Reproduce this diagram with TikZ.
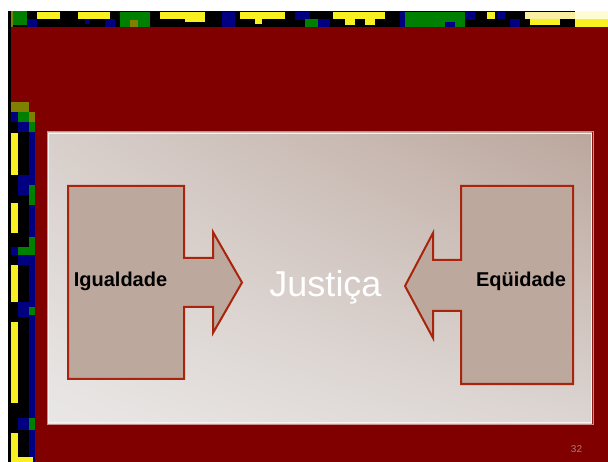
\documentclass[tikz,border=0pt]{standalone}
\usepackage{fontspec}
\setmainfont{Liberation Sans}
\usetikzlibrary{shadings}
\definecolor{bgred}{HTML}{800000}
\definecolor{olv}{HTML}{808000}
\definecolor{grn}{HTML}{008000}
\definecolor{blu}{HTML}{000080}
\definecolor{yel}{HTML}{F8F020}
\definecolor{paleyel}{HTML}{F8F0A0}
\definecolor{calfill}{HTML}{BDA89E}
\definecolor{caledge}{HTML}{A8240C}
\definecolor{pnum}{HTML}{A58080}
\definecolor{pul}{RGB}{216,207,203}
\definecolor{pur}{RGB}{187,166,156}
\definecolor{pll}{RGB}{233,231,230}
\definecolor{plr}{RGB}{220,213,210}
\definecolor{pout}{RGB}{200,140,140}
\definecolor{pin}{RGB}{245,242,242}
\tikzset{
  callout/.style={fill=calfill, draw=caledge, line width=2pt, line join=miter},
  lbl/.style={font=\bfseries\fontsize{20}{24}\selectfont, text=black, inner sep=0pt, anchor=base},
  bigtxt/.style={font=\fontsize{36}{40}\selectfont, text=white, inner sep=0pt, anchor=base},
  pagenum/.style={font=\fontsize{10}{12}\selectfont, text=pnum, inner sep=0pt, anchor=base}
}
\begin{document}
\begin{tikzpicture}[x=1pt,y=-1pt]
\useasboundingbox (0,0) rectangle (608,462);
\fill[white] (0,0) rectangle (608,462);
% background
\fill[bgred] (8,27) rectangle (608,462);
% top strip
\fill[black] (8,11) rectangle (608,27);
\fill[olv] (9,11) rectangle (13,27);
\fill[grn] (13,11) rectangle (27,25);
\fill[blu] (27,19) rectangle (37,27);
\fill[yel] (37,12) rectangle (60,19);
\fill[yel] (78,12) rectangle (110,19);
\fill[blu] (85,19) rectangle (90,24);
\fill[blu] (105,19) rectangle (115,27);
\fill[grn] (120,12) rectangle (150,27);
\fill[olv] (130,20) rectangle (138,27);
\fill[yel] (160,12) rectangle (195,19);
\fill[yel] (185,12) rectangle (205,22);
\fill[blu] (222,12) rectangle (235,27);
\fill[yel] (240,12) rectangle (285,19);
\fill[yel] (255,19) rectangle (262,24);
\fill[blu] (295,12) rectangle (310,20);
\fill[grn] (305,19) rectangle (318,27);
\fill[blu] (318,19) rectangle (330,27);
\fill[yel] (333,12) rectangle (385,19);
\fill[yel] (345,19) rectangle (355,25);
\fill[yel] (365,19) rectangle (375,25);
\fill[blu] (400,12) rectangle (405,27);
\fill[grn] (405,12) rectangle (465,27);
\fill[blu] (445,22) rectangle (455,27);
\fill[blu] (465,12) rectangle (475,20);
\fill[yel] (487,12) rectangle (495,19);
\fill[blu] (497,12) rectangle (505,19);
\fill[blu] (510,19) rectangle (520,27);
\fill[paleyel] (525,12) rectangle (575,19);
\fill[yel] (530,19) rectangle (560,25);
\fill[yel!20] (575,11) rectangle (608,19);
\fill[yel] (575,19) rectangle (608,27);
% left strip
\fill[black] (8,11) rectangle (11,462);
\fill[black] (11,112) rectangle (35,462);
\fill[olv] (11,102) rectangle (29,112);
\fill[blu] (11,112) rectangle (18,122);
\fill[grn] (18,112) rectangle (29,122);
\fill[olv] (29,112) rectangle (35,122);
\fill[blu] (18,122) rectangle (29,132);
\fill[grn] (29,122) rectangle (35,132);
\fill[blu] (29,132) rectangle (35,462);
\fill[yel] (11,133) rectangle (18,175);
\fill[blu] (18,175) rectangle (29,195);
\fill[grn] (29,185) rectangle (35,205);
\fill[yel] (11,203) rectangle (18,233);
\fill[grn] (29,237) rectangle (35,255);
\fill[blu] (11,247) rectangle (18,255);
\fill[grn] (18,247) rectangle (29,255);
\fill[blu] (18,255) rectangle (29,265);
\fill[yel] (11,265) rectangle (18,302);
\fill[blu] (18,302) rectangle (29,317);
\fill[grn] (29,307) rectangle (35,315);
\fill[yel] (11,322) rectangle (18,403);
\fill[blu] (18,418) rectangle (29,430);
\fill[grn] (29,418) rectangle (35,430);
\fill[yel] (11,433) rectangle (18,462);
\fill[yel] (11,457) rectangle (33,462);
% panel
\shade[upper left=pul, upper right=pur, lower left=pll, lower right=plr]
  (48,133) rectangle (592,423);
\draw[draw=pout, line width=1pt] (47,132) rectangle (593,424);
\draw[draw=pin, line width=1.2pt] (48.5,133.5) rectangle (591.5,422.5);
% callouts
\draw[callout] (68,186) -- (184,186) -- (184,258) -- (213,258) -- (213,232)
  -- (242,282.5) -- (213,333) -- (213,307) -- (184,307) -- (184,379) -- (68,379) -- cycle;
\draw[callout] (573,186) -- (461,186) -- (461,260) -- (433,260) -- (433,233)
  -- (405,286) -- (433,338) -- (433,311) -- (461,311) -- (461,384) -- (573,384) -- cycle;
% texts
\node[lbl] (igual) at (120.5,287) {Igualdade};
\node[lbl] (equi) at (521,287) {Eqüidade};
\node[bigtxt] (just) at (325.5,297) {Justiça};
\node[pagenum] (pg) at (576.5,452) {32};
\end{tikzpicture}
\end{document}
